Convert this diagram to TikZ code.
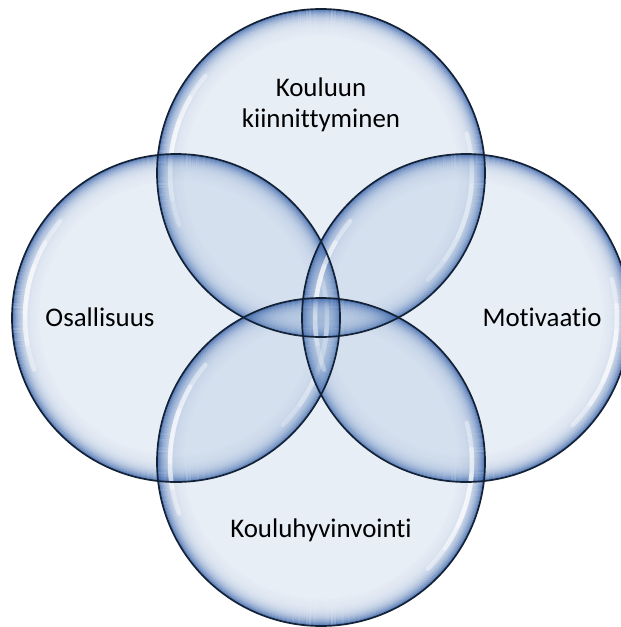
\documentclass[tikz,border=0pt]{standalone}
\usepackage{fontspec}
\setmainfont[Ligatures=NoCommon]{Carlito}
\definecolor{cbase}{RGB}{140,172,212}
\definecolor{rimblue}{RGB}{58,100,170}
\definecolor{edgecol}{RGB}{20,34,55}
\tikzset{
  bubblefill/.style={fill=cbase, fill opacity=0.2},
  bubbleedge/.style={draw=edgecol, line width=1.7bp},
  hilite/.style={white, line width=4.5bp, line cap=round},
  lbl/.style={font=\fontsize{27}{31}\selectfont, text=black, inner sep=0pt, anchor=base},
}
\newcommand\myhl[2]{%
  \draw[hilite, draw opacity=0.4] ([shift={({#2-30}:151)}]#1) arc[start angle={#2-30}, end angle={#2+30}, radius=151];
  \draw[hilite, draw opacity=0.4] ([shift={({#2-20}:151)}]#1) arc[start angle={#2-20}, end angle={#2+20}, radius=151];
  \draw[hilite, draw opacity=0.35] ([shift={({#2-10}:151)}]#1) arc[start angle={#2-10}, end angle={#2+10}, radius=151];
}
\newcommand\mybubble[1]{%
  \fill[bubblefill] (#1) circle[radius=164];
  \foreach \k in {0,...,26}{
    \pgfmathsetmacro\op{0.85*exp(-\k/6)}
    \draw[rimblue, line width=1.1bp, draw opacity=\op] (#1) circle[radius={163.5-\k}];
  }
  \myhl{#1}{190}
  \myhl{#1}{15}
}
\begin{document}
\begin{tikzpicture}[x=1bp,y=-1bp]
  \useasboundingbox (0,0) rectangle (621,627);
  \fill[white] (0,0) rectangle (621,627);
  \clip (0,0) rectangle (621,627);
  \coordinate (cT) at (321,173);
  \coordinate (cB) at (321,462);
  \coordinate (cL) at (176,318);
  \coordinate (cR) at (466,318);
  \mybubble{cT}
  \mybubble{cL}
  \mybubble{cR}
  \mybubble{cB}
  \draw[bubbleedge] (cT) circle[radius=164];
  \draw[bubbleedge] (cL) circle[radius=164];
  \draw[bubbleedge] (cR) circle[radius=164];
  \draw[bubbleedge] (cB) circle[radius=164];
  \node[lbl] (t1) at (321,97) {Kouluun};
  \node[lbl] (t2) at (321,127.5) {kiinnittyminen};
  \node[lbl] (tL) at (100,326) {Osallisuus};
  \node[lbl] (tR) at (542,326) {Motivaatio};
  \node[lbl] (tB) at (321,537) {Kouluhyvinvointi};
\end{tikzpicture}
\end{document}
